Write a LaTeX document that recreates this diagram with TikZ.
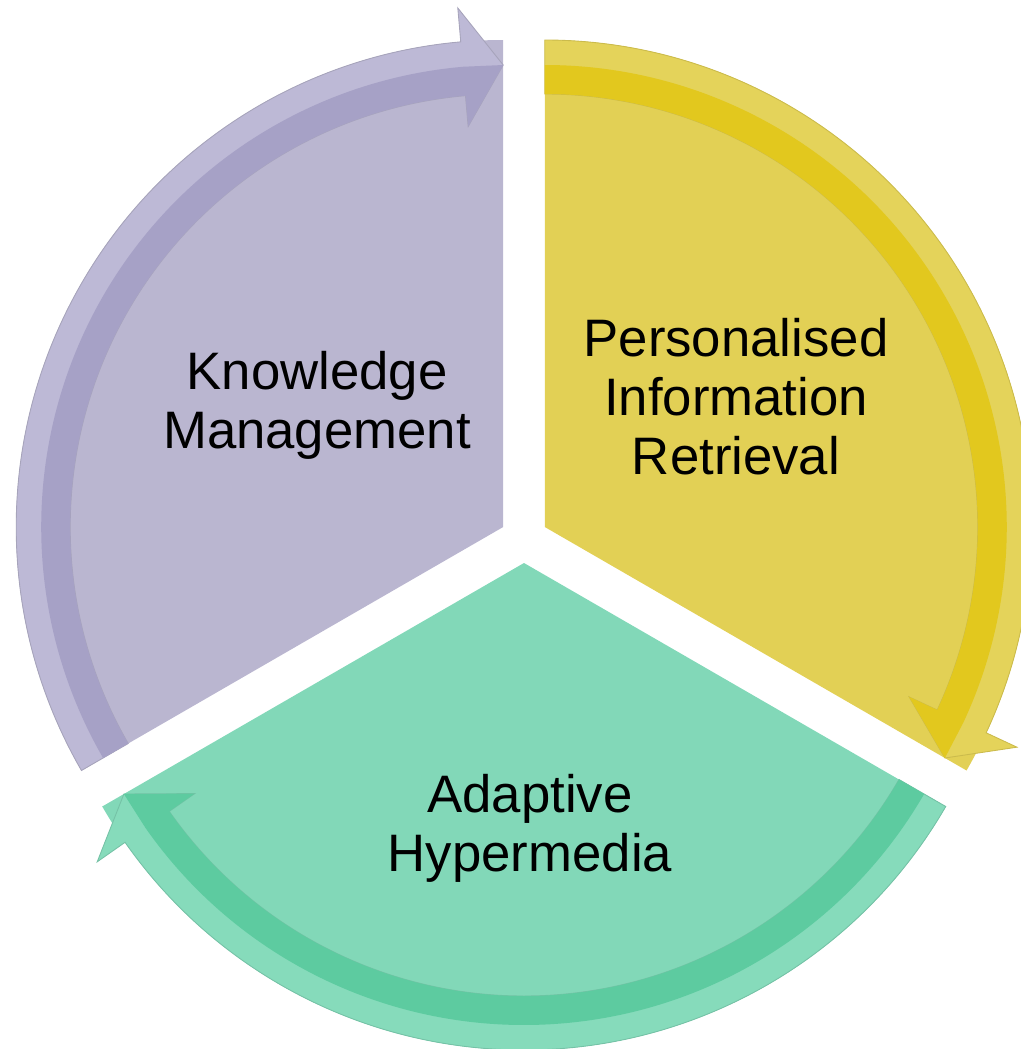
\documentclass[tikz,border=0pt]{standalone}
\usepackage{fontspec}
\setmainfont{Liberation Sans}
\usepackage{xcolor}
\usepackage{tikz}
\usetikzlibrary{positioning}
\usetikzlibrary{arrows}

\definecolor{kmfill}{HTML}{BAB6D0}
\definecolor{kmband}{HTML}{BDB9D6}
\definecolor{kmdark}{HTML}{A6A1C6}
\definecolor{pirfill}{HTML}{E2D055}
\definecolor{pirband}{HTML}{E4D35A}
\definecolor{pirdark}{HTML}{E2C81E}
\definecolor{ahfill}{HTML}{82D8B8}
\definecolor{ahband}{HTML}{86DBBB}
\definecolor{ahdark}{HTML}{5DCBA0}

\begin{document}
\begin{tikzpicture}[x=0.1mm, y=0.1mm]

\tikzset{%
    segment/.style = {
        draw=#1!90!black,
        line width=0.25pt
    },
    segment label/.style = {
        align=center,
        inner sep=0pt,
        font=\fontsize{15}{16.8}\selectfont
    }
}

\useasboundingbox (-524,-510) rectangle (497,539);
\clip (-524,-510) rectangle (497,539);

% sectors with their circular arrows, all running clockwise
\foreach \n/\dir/\a/\b/\lite/\band/\dark in {km/150/210/90/kmfill/kmband/kmdark,
    pir/30/90/-30/pirfill/pirband/pirdark,
    ah/270/-30/-150/ahfill/ahband/ahdark}
{
  \pgfmathsetmacro{\h}{\b+5}
  \coordinate (apex-\n) at (\dir:24);
  \begin{scope}[shift={(apex-\n)}]
    \fill [\lite] (0,0) -- (\a:487)
      arc [start angle=\a, end angle=\b, radius=487] -- cycle;
    \filldraw [fill=\band, segment=\lite] (\a:487)
      arc [start angle=\a, end angle=\h, radius=487]
      -- (\h:521) -- (\b:462) -- (\h:402) -- (\h:433)
      arc [start angle=\h, end angle=\a, radius=433] -- cycle;
    \fill [\dark] (\a:433)
      arc [start angle=\a, end angle=\h, radius=433]
      -- (\h:402) -- (\b:462) -- (\h:462)
      arc [start angle=\h, end angle=\a, radius=462] -- cycle;
  \end{scope}
}

\node [segment label] (label-km) at (-207,134) {Knowledge\\Management};
\node [segment label] (label-pir) at (212,142) {Personalised\\Information\\Retrieval};
\node [segment label] (label-ah) at (6,-289) {Adaptive\\Hypermedia};

\end{tikzpicture}
\end{document}
